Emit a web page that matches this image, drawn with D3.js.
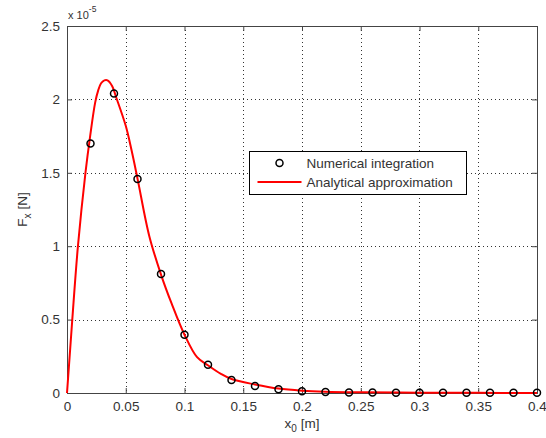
<!DOCTYPE html>
<html>
<head>
<meta charset="utf-8">
<script src="https://cdn.jsdelivr.net/npm/d3@7"></script>
<style>
  body { margin: 0; background: #fff; }
  text { font-family: "Liberation Sans", Arial, sans-serif; fill: #333; }
</style>
</head>
<body>
<svg id="chart"></svg>
<script>
// numerical integration points (x0 in m, Fx in 1e-5 N)
const numX = [0.02, 0.04, 0.06, 0.08, 0.10, 0.12, 0.14, 0.16, 0.18, 0.20,
              0.22, 0.24, 0.26, 0.28, 0.30, 0.32, 0.34, 0.36, 0.38, 0.40];
const numY = [1.70, 2.04, 1.457, 0.81, 0.397, 0.193, 0.089, 0.048, 0.025, 0.012,
              0.006, 0.004, 0.003, 0.002, 0.002, 0.001, 0.001, 0.001, 0.001, 0.001];

// analytical approximation curve
const fitX = [0, 0.0014, 0.0045, 0.0093, 0.0157, 0.0197, 0.024, 0.0265, 0.029, 0.0318, 0.0345,
              0.0385, 0.0416, 0.05, 0.0549, 0.0601, 0.07, 0.0803, 0.089, 0.10, 0.1107, 0.1202,
              0.131, 0.14, 0.16, 0.18, 0.20, 0.22, 0.25, 0.30, 0.35, 0.40];
const fitY = [0, 0.155, 0.5, 1.0, 1.5, 1.75, 1.98, 2.06, 2.11, 2.13, 2.13,
              2.09, 2.02, 1.82, 1.655, 1.457, 1.07, 0.80, 0.61, 0.397, 0.244, 0.187,
              0.13, 0.095, 0.058, 0.03, 0.016, 0.009, 0.005, 0.002, 0.001, 0.0];

const xTicks = [0, 0.05, 0.1, 0.15, 0.2, 0.25, 0.3, 0.35, 0.4];
const yTicks = [0, 0.5, 1, 1.5, 2, 2.5];
const legendLabels = ['Numerical integration', 'Analytical approximation'];

const width = 546, height = 438;
const margin = {top: 26, right: 9, bottom: 45, left: 67};
const innerW = width - margin.left - margin.right;
const innerH = height - margin.top - margin.bottom;
const fs = '13.5px';

const svg = d3.select('#chart').attr('width', width).attr('height', height);
const chart = svg.append('g').attr('transform', `translate(${margin.left}, ${margin.top})`);

const xscale = d3.scaleLinear().domain([0, 0.4]).range([0, innerW]);
const yscale = d3.scaleLinear().domain([0, 2.5]).range([innerH, 0]);

chart.append('rect').attr('width', innerW).attr('height', innerH).attr('fill', '#fff');

// grid
const grid = chart.append('g').attr('stroke', '#333').attr('stroke-width', 1)
  .attr('stroke-dasharray', '1,3');
grid.selectAll('.gx').data(xTicks.slice(1, -1)).join('line')
  .attr('x1', d => Math.round(xscale(d)) + 0.5).attr('x2', d => Math.round(xscale(d)) + 0.5)
  .attr('y1', 0).attr('y2', innerH);
grid.selectAll('.gy').data(yTicks.slice(1, -1)).join('line')
  .attr('y1', d => Math.round(yscale(d)) + 0.5).attr('y2', d => Math.round(yscale(d)) + 0.5)
  .attr('x1', 0).attr('x2', innerW);

// axes, ticks inward like matlab
const xaxis = d3.axisBottom(xscale).tickValues(xTicks).tickFormat(d3.format('')).tickSize(-5).tickPadding(8);
const yaxis = d3.axisLeft(yscale).tickValues(yTicks).tickFormat(d3.format('')).tickSize(-5).tickPadding(7);
const xtop = d3.axisTop(xscale).tickValues(xTicks).tickFormat('').tickSize(-5);
const yright = d3.axisRight(yscale).tickValues(yTicks).tickFormat('').tickSize(-5);

const gx = chart.append('g').attr('transform', `translate(0, ${innerH})`).call(xaxis);
const gy = chart.append('g').call(yaxis);
const gt = chart.append('g').call(xtop);
const gr = chart.append('g').attr('transform', `translate(${innerW}, 0)`).call(yright);
[gx, gy, gt, gr].forEach(g => {
  g.selectAll('path').attr('stroke', '#444');
  g.selectAll('line').attr('stroke', '#444');
  g.selectAll('text').style('font-size', fs).attr('fill', '#333')
    .style('font-family', '"Liberation Sans", Arial, sans-serif');
});

// curve
const line = d3.line().x((d, i) => xscale(fitX[i])).y(d => yscale(d)).curve(d3.curveCatmullRom.alpha(0.5));
chart.append('path').datum(fitY).attr('d', line)
  .attr('fill', 'none').attr('stroke', '#ff0000').attr('stroke-width', 2);

// markers
chart.selectAll('.pt').data(numY).join('circle')
  .attr('cx', (d, i) => xscale(numX[i])).attr('cy', d => yscale(d)).attr('r', 3.5)
  .attr('fill', 'none').attr('stroke', '#000').attr('stroke-width', 1.5);

// legend
const leg = chart.append('g').attr('transform', `translate(${249.5 - margin.left}, ${151.5 - margin.top})`);
leg.append('rect').attr('width', 217).attr('height', 43)
  .attr('fill', '#fff').attr('stroke', '#000').attr('stroke-width', 1);
leg.append('circle').attr('cx', 30).attr('cy', 11.5).attr('r', 3.5)
  .attr('fill', 'none').attr('stroke', '#000').attr('stroke-width', 1.5);
leg.append('line').attr('x1', 8).attr('x2', 52).attr('y1', 30.5).attr('y2', 30.5)
  .attr('stroke', '#ff0000').attr('stroke-width', 2);
leg.selectAll('.lt').data(legendLabels).join('text')
  .attr('x', 57).attr('y', (d, i) => 16.5 + i * 19)
  .style('font-size', fs).text(d => d);

// axis labels
const xl = svg.append('text').attr('x', margin.left + innerW / 2).attr('y', 428)
  .attr('text-anchor', 'middle').style('font-size', fs);
xl.append('tspan').text('x');
xl.append('tspan').attr('dy', 4).style('font-size', '10px').text('0');
xl.append('tspan').attr('dy', -4).text(' [m]');

const yl = svg.append('text')
  .attr('transform', `translate(27, ${margin.top + innerH / 2}) rotate(-90)`)
  .attr('text-anchor', 'middle').style('font-size', fs);
yl.append('tspan').text('F');
yl.append('tspan').attr('dy', 4).style('font-size', '10px').text('x');
yl.append('tspan').attr('dy', -4).text(' [N]');

// exponent
const ex = svg.append('text').attr('x', 68).attr('y', 19).style('font-size', '11px');
ex.append('tspan').text('x 10');
ex.append('tspan').attr('dy', -7).style('font-size', '8.5px').text('-5');
</script>
</body>
</html>
